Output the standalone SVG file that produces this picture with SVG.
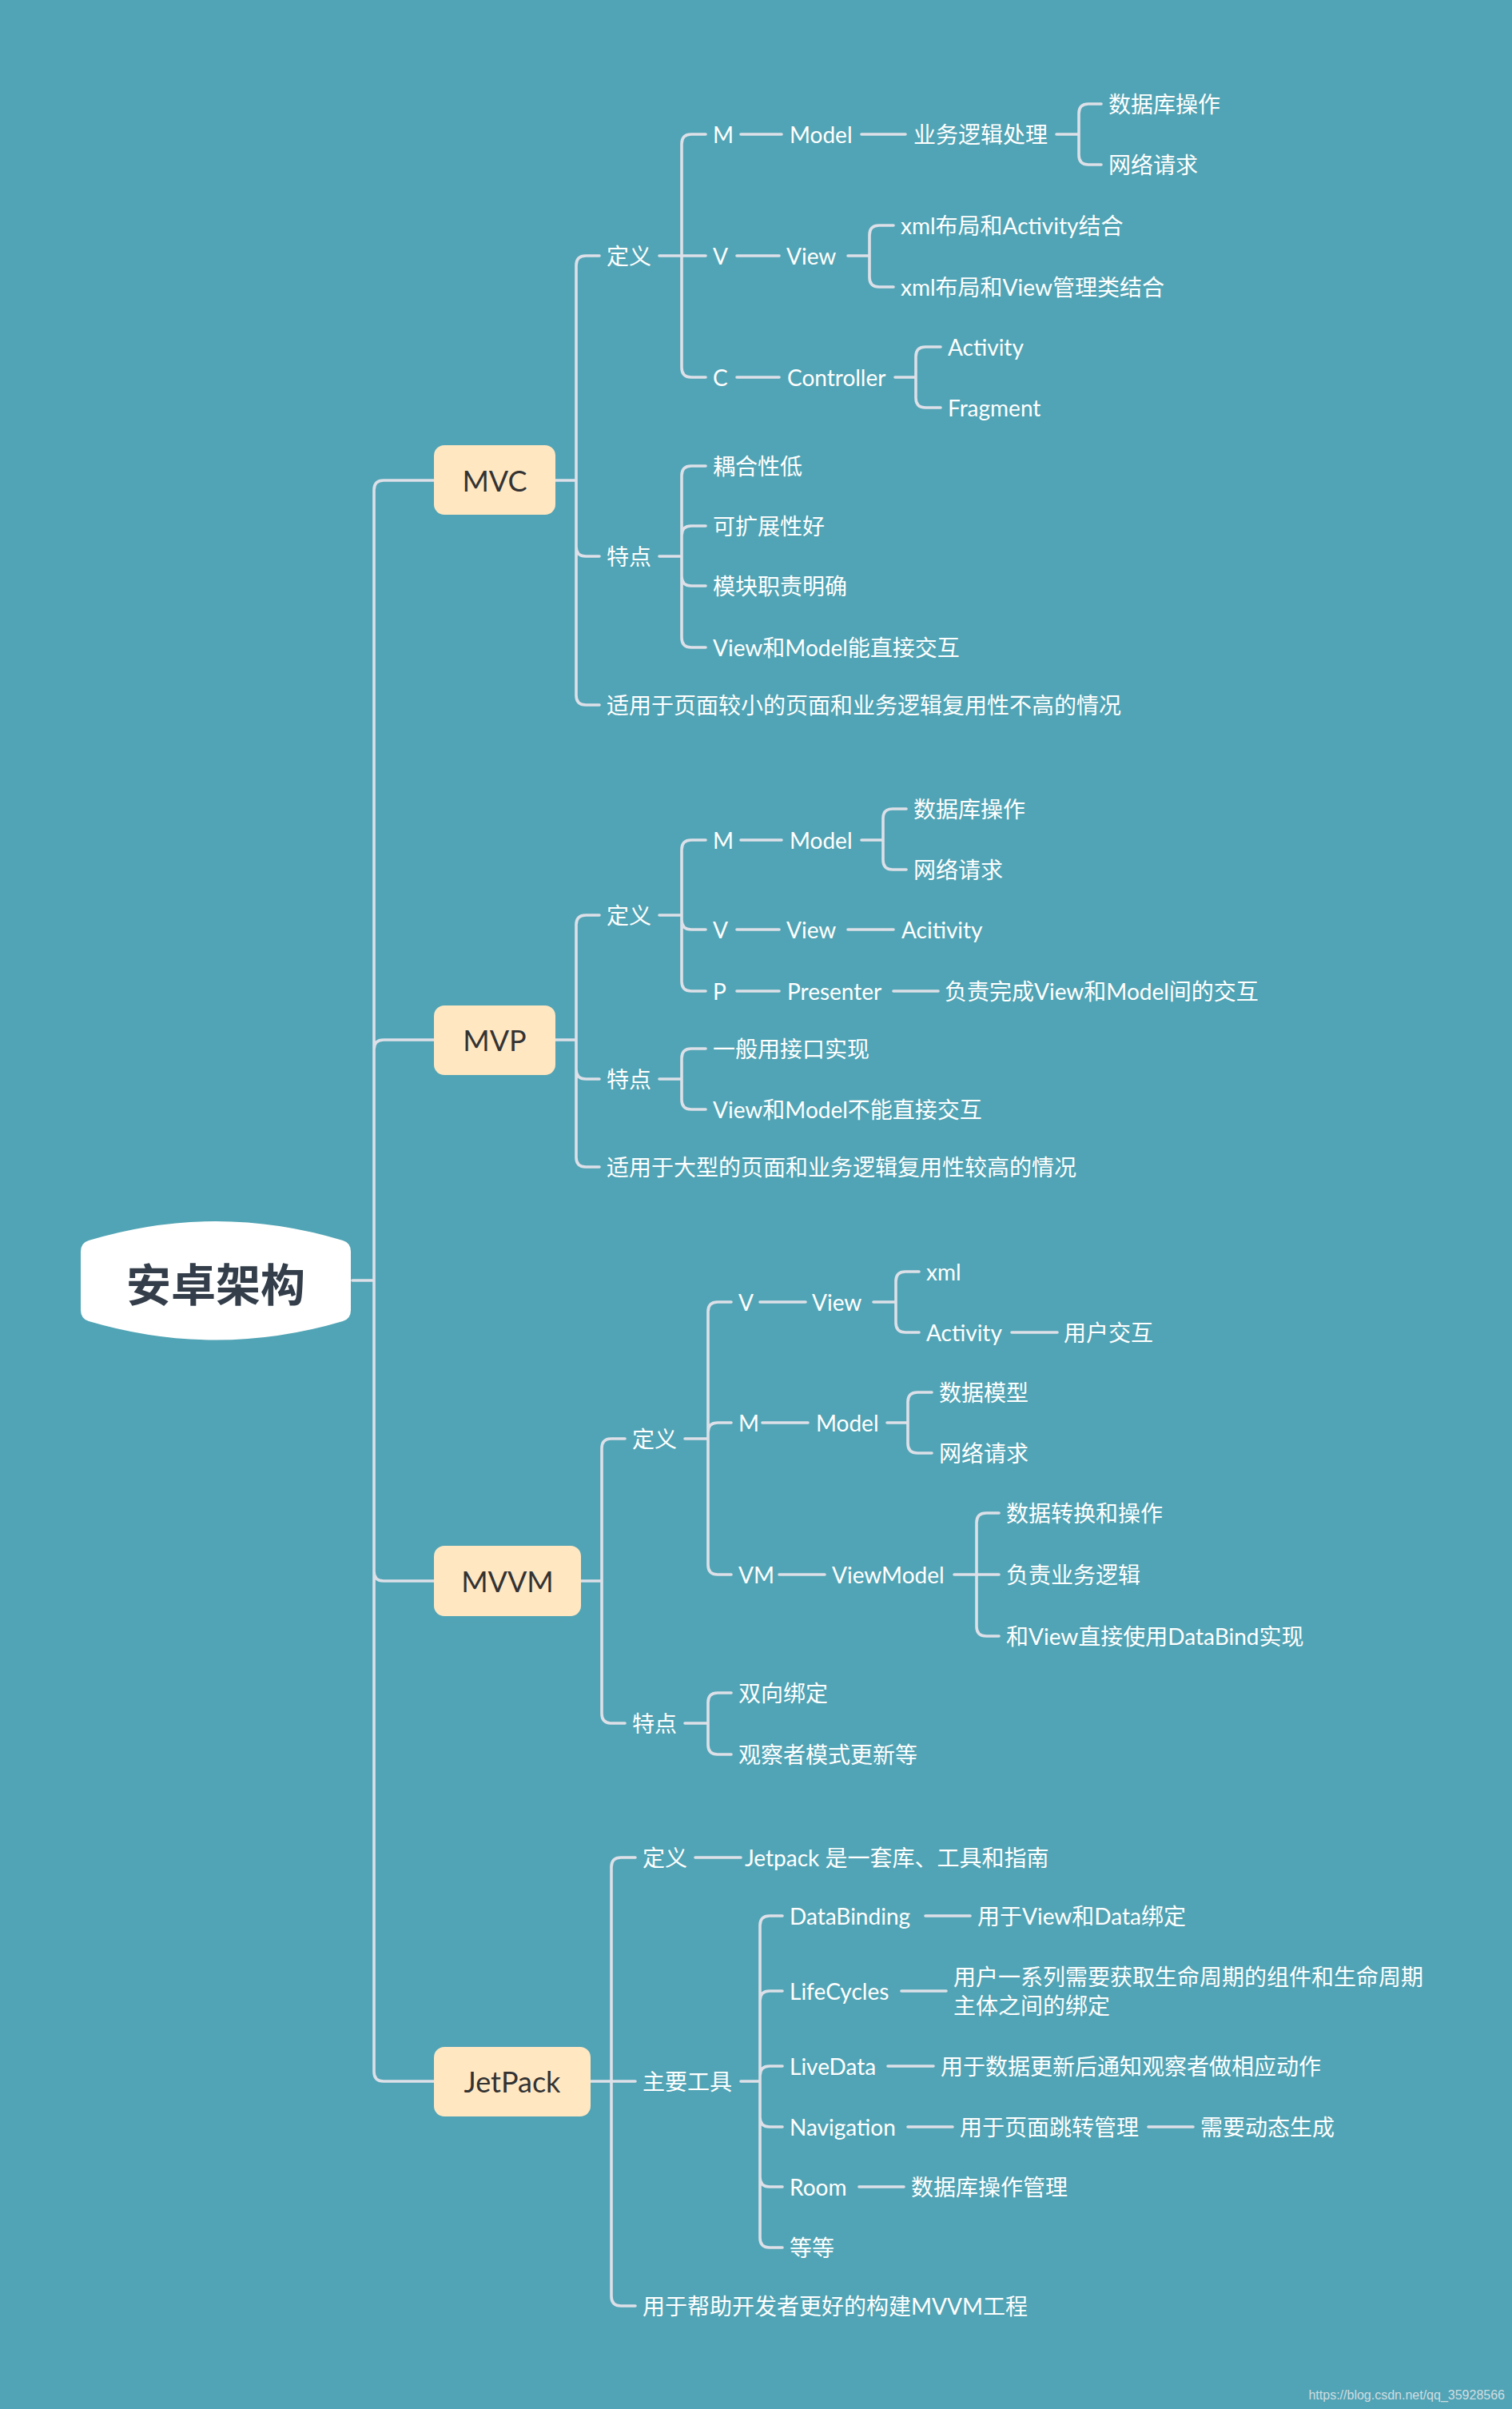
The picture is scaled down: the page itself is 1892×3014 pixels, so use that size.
<svg xmlns="http://www.w3.org/2000/svg" width="1892" height="3014" viewBox="0 0 1892 3014">
<style>
.t{font-family:"Lato","Noto Sans CJK SC",sans-serif;font-size:28px;fill:#ffffff;dominant-baseline:central}
.b{font-family:"Lato","Noto Sans CJK SC",sans-serif;font-size:36px;fill:#333333;text-anchor:middle;dominant-baseline:central}
.box{fill:#ffe7c2}
.c path{fill:none;stroke:#dde0e8;stroke-width:3.6;stroke-linecap:round}
</style>
<rect width="1892" height="3014" fill="#51a4b5"/>
<g class="c" id="connectors">
<path d="M441,1602 H468 M468,1602 V613 Q468,601 480,601 H543 M468,1602 V1313 Q468,1301 480,1301 H543 M468,1602 V1966 Q468,1978 480,1978 H543 M468,1602 V2592 Q468,2604 480,2604 H543"/>
<path d="M695,601 H721 M721,601 V332 Q721,320 733,320 H750 M721,601 V684 Q721,696 733,696 H750 M721,601 V870 Q721,882 733,882 H750"/>
<path d="M825,320 H853 M853,320 V180 Q853,168 865,168 H883 M853,320 H883 M853,320 V460 Q853,472 865,472 H883"/>
<path d="M927,168 H978 M1078,168 H1133 M1322,168 H1350 M1350,168 V142 Q1350,130 1362,130 H1378 M1350,168 V194 Q1350,206 1362,206 H1378"/>
<path d="M922,320 H975 M1061,320 H1088 M1088,320 V294 Q1088,282 1100,282 H1118 M1088,320 V347 Q1088,359 1100,359 H1118"/>
<path d="M922,472 H975 M1120,472 H1146 M1146,472 V446 Q1146,434 1158,434 H1177 M1146,472 V498 Q1146,510 1158,510 H1177"/>
<path d="M825,696 H853 M853,696 V595 Q853,583 865,583 H883 M853,696 V670 Q853,658 865,658 H883 M853,696 V721 Q853,733 865,733 H883 M853,696 V798 Q853,810 865,810 H883"/>
<path d="M695,1301 H721 M721,1301 V1157 Q721,1145 733,1145 H750 M721,1301 V1338 Q721,1350 733,1350 H750 M721,1301 V1448 Q721,1460 733,1460 H750"/>
<path d="M825,1145 H853 M853,1145 V1063 Q853,1051 865,1051 H883 M853,1145 V1151 Q853,1163 865,1163 H883 M853,1145 V1228 Q853,1240 865,1240 H883"/>
<path d="M927,1051 H978 M1078,1051 H1105 M1105,1051 V1024 Q1105,1012 1117,1012 H1134 M1105,1051 V1076 Q1105,1088 1117,1088 H1134 M922,1163 H975 M1061,1163 H1118 M922,1240 H975 M1118,1240 H1174"/>
<path d="M825,1350 H853 M853,1350 V1324 Q853,1312 865,1312 H883 M853,1350 V1376 Q853,1388 865,1388 H883"/>
<path d="M727,1978 H753 M753,1978 V1812 Q753,1800 765,1800 H782 M753,1978 V2144 Q753,2156 765,2156 H782"/>
<path d="M857,1800 H886 M886,1800 V1641 Q886,1629 898,1629 H915 M886,1800 V1792 Q886,1780 898,1780 H915 M886,1800 V1958 Q886,1970 898,1970 H915"/>
<path d="M951,1629 H1008 M1093,1629 H1121 M1121,1629 V1603 Q1121,1591 1133,1591 H1150 M1121,1629 V1655 Q1121,1667 1133,1667 H1150 M1266,1667 H1323"/>
<path d="M954,1780 H1011 M1110,1780 H1136 M1136,1780 V1754 Q1136,1742 1148,1742 H1166 M1136,1780 V1806 Q1136,1818 1148,1818 H1166"/>
<path d="M975,1970 H1032 M1194,1970 H1222 M1222,1970 V1905 Q1222,1893 1234,1893 H1250 M1222,1970 H1250 M1222,1970 V2035 Q1222,2047 1234,2047 H1250"/>
<path d="M857,2156 H886 M886,2156 V2130 Q886,2118 898,2118 H915 M886,2156 V2183 Q886,2195 898,2195 H915"/>
<path d="M739,2604 H765 M765,2604 V2336 Q765,2324 777,2324 H795 M765,2604 H795 M765,2604 V2873 Q765,2885 777,2885 H795 M870,2324 H927"/>
<path d="M927,2604 H951 M951,2604 V2409 Q951,2397 963,2397 H979 M951,2604 V2503 Q951,2491 963,2491 H979 M951,2604 V2597 Q951,2585 963,2585 H979 M951,2604 V2649 Q951,2661 963,2661 H979 M951,2604 V2724 Q951,2736 963,2736 H979 M951,2604 V2800 Q951,2812 963,2812 H979"/>
<path d="M1158,2397 H1214 M1128,2491 H1184 M1111,2585 H1168 M1136,2661 H1192 M1437,2661 H1493 M1075,2736 H1131"/>
</g>
<g id="root">
<path d="M111,1552 Q270,1504 429,1552 Q439,1555 439,1566 V1639 Q439,1650 429,1653 Q270,1700 111,1653 Q101,1650 101,1639 V1566 Q101,1555 111,1552 Z" fill="#ffffff"/>
<text x="270" y="1603" style="font-family:'Noto Sans CJK SC',sans-serif;font-size:56px;font-weight:700;fill:#333e4a;text-anchor:middle;dominant-baseline:central">安卓架构</text>
</g>
<g id="mvc"><rect class="box" x="543" y="557" width="152" height="87" rx="13"/><text class="b" x="619" y="601">MVC</text></g>
<g id="mvp"><rect class="box" x="543" y="1258" width="152" height="87" rx="13"/><text class="b" x="619" y="1301">MVP</text></g>
<g id="mvvm"><rect class="box" x="543" y="1934" width="184" height="88" rx="13"/><text class="b" x="635" y="1978">MVVM</text></g>
<g id="jetpack"><rect class="box" x="543" y="2561" width="196" height="87" rx="13"/><text class="b" x="641" y="2604">JetPack</text></g>
<g id="mvc-children">
<text class="t" x="759" y="320">定义</text>
<text class="t" x="892" y="168">M</text>
<text class="t" x="988" y="168">Model</text>
<text class="t" x="1143" y="168">业务逻辑处理</text>
<text class="t" x="1387" y="130">数据库操作</text>
<text class="t" x="1387" y="206">网络请求</text>
<text class="t" x="892" y="320">V</text>
<text class="t" x="984" y="320">View</text>
<text class="t" x="1127" y="282">xml布局和Activity结合</text>
<text class="t" x="1127" y="359">xml布局和View管理类结合</text>
<text class="t" x="892" y="472">C</text>
<text class="t" x="985" y="472">Controller</text>
<text class="t" x="1186" y="434">Activity</text>
<text class="t" x="1186" y="510">Fragment</text>
<text class="t" x="759" y="696">特点</text>
<text class="t" x="892" y="583">耦合性低</text>
<text class="t" x="892" y="658">可扩展性好</text>
<text class="t" x="892" y="733">模块职责明确</text>
<text class="t" x="892" y="810">View和Model能直接交互</text>
<text class="t" x="759" y="882">适用于页面较小的页面和业务逻辑复用性不高的情况</text>
</g>
<g id="mvp-children">
<text class="t" x="759" y="1145">定义</text>
<text class="t" x="892" y="1051">M</text>
<text class="t" x="988" y="1051">Model</text>
<text class="t" x="1143" y="1012">数据库操作</text>
<text class="t" x="1143" y="1088">网络请求</text>
<text class="t" x="892" y="1163">V</text>
<text class="t" x="984" y="1163">View</text>
<text class="t" x="1128" y="1163">Acitivity</text>
<text class="t" x="892" y="1240">P</text>
<text class="t" x="985" y="1240">Presenter</text>
<text class="t" x="1182" y="1240">负责完成View和Model间的交互</text>
<text class="t" x="759" y="1350">特点</text>
<text class="t" x="892" y="1312">一般用接口实现</text>
<text class="t" x="892" y="1388">View和Model不能直接交互</text>
<text class="t" x="759" y="1460">适用于大型的页面和业务逻辑复用性较高的情况</text>
</g>
<g id="mvvm-children">
<text class="t" x="791" y="1800">定义</text>
<text class="t" x="924" y="1629">V</text>
<text class="t" x="1016" y="1629">View</text>
<text class="t" x="1159" y="1591">xml</text>
<text class="t" x="1159" y="1667">Activity</text>
<text class="t" x="1331" y="1667">用户交互</text>
<text class="t" x="924" y="1780">M</text>
<text class="t" x="1021" y="1780">Model</text>
<text class="t" x="1175" y="1742">数据模型</text>
<text class="t" x="1175" y="1818">网络请求</text>
<text class="t" x="924" y="1970">VM</text>
<text class="t" x="1041" y="1970">ViewModel</text>
<text class="t" x="1259" y="1893">数据转换和操作</text>
<text class="t" x="1259" y="1970">负责业务逻辑</text>
<text class="t" x="1259" y="2047">和View直接使用DataBind实现</text>
<text class="t" x="791" y="2156">特点</text>
<text class="t" x="924" y="2118">双向绑定</text>
<text class="t" x="924" y="2195">观察者模式更新等</text>
</g>
<g id="jetpack-children">
<text class="t" x="804" y="2324">定义</text>
<text class="t" x="932" y="2324">Jetpack 是一套库、工具和指南</text>
<text class="t" x="804" y="2604">主要工具</text>
<text class="t" x="988" y="2397">DataBinding</text>
<text class="t" x="1223" y="2397">用于View和Data绑定</text>
<text class="t" x="988" y="2491">LifeCycles</text>
<text class="t" x="1193" y="2473">用户一系列需要获取生命周期的组件和生命周期</text>
<text class="t" x="1193" y="2509">主体之间的绑定</text>
<text class="t" x="988" y="2585">LiveData</text>
<text class="t" x="1177" y="2585">用于数据更新后通知观察者做相应动作</text>
<text class="t" x="988" y="2661">Navigation</text>
<text class="t" x="1201" y="2661">用于页面跳转管理</text>
<text class="t" x="1502" y="2661">需要动态生成</text>
<text class="t" x="988" y="2736">Room</text>
<text class="t" x="1140" y="2736">数据库操作管理</text>
<text class="t" x="988" y="2812">等等</text>
<text class="t" x="804" y="2885">用于帮助开发者更好的构建MVVM工程</text>
</g>
<text x="1883" y="2996" style="font-family:'Liberation Sans',sans-serif;font-size:16px;fill:#d0dde2;text-anchor:end;dominant-baseline:central">https://blog.csdn.net/qq_35928566</text>
</svg>
